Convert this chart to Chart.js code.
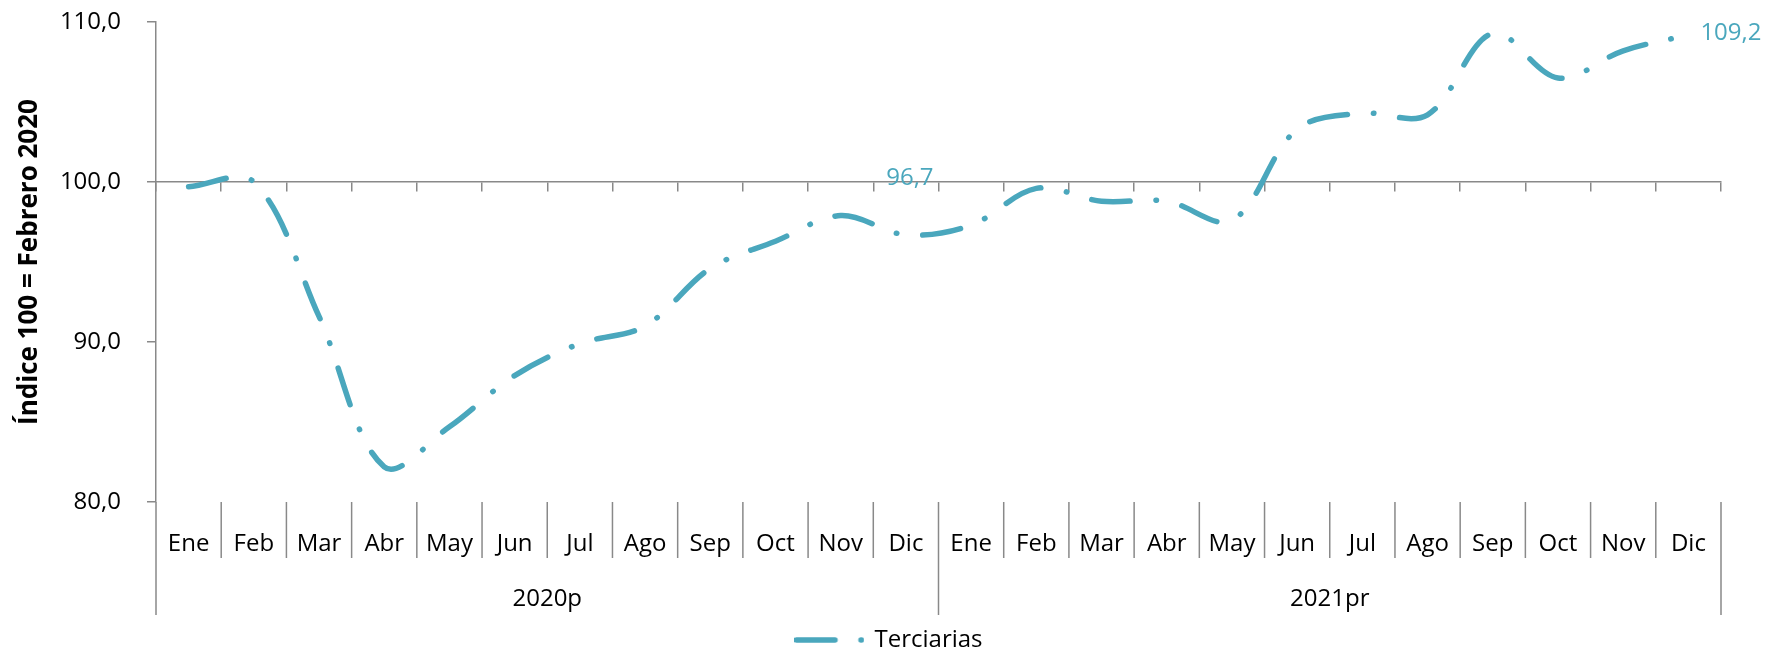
<!DOCTYPE html>
<html>
<head>
<meta charset="utf-8">
<script src="https://cdn.jsdelivr.net/npm/chart.js@4/dist/chart.umd.min.js"></script>
<style>
  html, body { margin: 0; padding: 0; background: #fff; }
  #wrap { width: 1765px; height: 652px; position: relative; }
</style>
</head>
<body>
<div id="wrap"><canvas id="chart"></canvas></div>
<script>
const months = ['Ene', 'Feb', 'Mar', 'Abr', 'May', 'Jun', 'Jul', 'Ago', 'Sep', 'Oct', 'Nov', 'Dic'];
const years = ['2020p', '2021pr'];
const terciarias2020 = [99.7, 100.0, 91.6, 82.2, 84.7, 87.9, 89.9, 91.0, 94.6, 96.3, 97.9, 96.7];
const terciarias2021 = [97.3, 99.6, 98.8, 98.8, 97.6, 103.3, 104.3, 104.2, 109.3, 106.5, 108.2, 109.2];
const yTicks = [80, 90, 100, 110];
const labelledPoints = [11, 23];

const lineColor = '#4aa7bd';
const axisColor = '#898989';
const dashPattern = [38.5, 26, 0.5, 26];

const labels = years.flatMap(() => months);
const values = terciarias2020.concat(terciarias2021);
const fmt = (v) => v.toFixed(1).replace('.', ',');

Chart.defaults.font.family = "'Open Sans', sans-serif";
Chart.defaults.font.size = 24;
Chart.defaults.color = '#000';

// legend sample: dash + dot, same pattern as the series
const legendSample = document.createElement('canvas');
legendSample.width = 70;
legendSample.height = 10;
{
  const c = legendSample.getContext('2d');
  c.strokeStyle = lineColor;
  c.lineWidth = 5.5;
  c.lineCap = 'round';
  c.setLineDash(dashPattern);
  c.beginPath();
  c.moveTo(2, 5);
  c.lineTo(68, 5);
  c.stroke();
}

// month + year band under the plot, positioned from the x scale
const bandPlugin = {
  id: 'band',
  afterDraw(chart) {
    const { ctx, chartArea } = chart;
    const x = chart.scales.x;
    const bottom = chartArea.bottom;
    ctx.save();
    ctx.strokeStyle = axisColor;
    ctx.lineWidth = 1.5;
    for (let i = 0; i <= labels.length; i++) {
      const px = x.getPixelForValue(i - 0.5);
      ctx.beginPath();
      ctx.moveTo(px, bottom);
      ctx.lineTo(px, bottom + (i % 12 === 0 ? 113 : 56));
      ctx.stroke();
    }
    ctx.fillStyle = '#000';
    ctx.font = "24px 'Open Sans', sans-serif";
    ctx.textAlign = 'center';
    ctx.textBaseline = 'alphabetic';
    labels.forEach((m, i) => {
      ctx.fillText(m, x.getPixelForValue(i), bottom + 49);
    });
    years.forEach((yr, g) => {
      const a = x.getPixelForValue(g * 12 - 0.5);
      const b = x.getPixelForValue(g * 12 + 11.5);
      ctx.fillText(yr, (a + b) / 2, bottom + 104);
    });
    ctx.restore();
  },
};

const valueLabels = {
  id: 'valueLabels',
  afterDatasetsDraw(chart) {
    const { ctx } = chart;
    const { x, y } = chart.scales;
    ctx.save();
    ctx.fillStyle = lineColor;
    ctx.font = "24px 'Open Sans', sans-serif";
    ctx.textBaseline = 'middle';
    labelledPoints.forEach((i) => {
      const px = x.getPixelForValue(i);
      const py = y.getPixelForValue(values[i]);
      if (i === labels.length - 1) {
        ctx.textAlign = 'left';
        ctx.fillText(fmt(values[i]), px + 12, py - 2);
      } else {
        ctx.textAlign = 'center';
        ctx.fillText(fmt(values[i]), px + 4, py - 57);
      }
    });
    ctx.restore();
  },
};

new Chart(document.getElementById('chart'), {
  type: 'line',
  data: {
    labels,
    datasets: [{
      label: 'Terciarias',
      data: values,
      borderColor: lineColor,
      backgroundColor: lineColor,
      borderWidth: 5.5,
      borderDash: dashPattern,
      borderCapStyle: 'round',
      borderJoinStyle: 'round',
      tension: 0.35,
      pointRadius: 0,
      fill: false,
      xAxisID: 'x',
      yAxisID: 'y',
    }],
  },
  options: {
    responsive: true,
    maintainAspectRatio: false,
    animation: false,
    layout: { padding: { top: 22, left: 14, right: 0, bottom: -10 } },
    plugins: {
      tooltip: { enabled: false },
      legend: {
        position: 'bottom',
        labels: {
          usePointStyle: true,
          pointStyle: legendSample,
          pointStyleWidth: 66,
          padding: 10,
          color: '#000',
          font: { size: 24 },
        },
      },
    },
    scales: {
      x: {
        type: 'category',
        position: { y: 100 },
        offset: true,
        ticks: { display: false },
        grid: { offset: true, drawOnChartArea: false, tickLength: 9, color: axisColor, lineWidth: 1.5 },
        border: { color: axisColor, width: 1.5 },
      },
      xb: {
        type: 'category',
        position: 'bottom',
        ticks: { display: false },
        grid: { display: false },
        border: { display: false },
        afterFit: (s) => { s.height = 116; },
      },
      y: {
        min: 80,
        max: 110,
        afterBuildTicks: (s) => { s.ticks = yTicks.map((v) => ({ value: v })); },
        ticks: { padding: 26, callback: (v) => fmt(v), color: '#000' },
        grid: { drawOnChartArea: false, tickLength: 9, color: axisColor, lineWidth: 1.5 },
        border: { color: axisColor, width: 1.5 },
        title: {
          display: true,
          text: 'Índice 100 = Febrero 2020',
          font: { size: 26, weight: 'bold' },
          color: '#000',
          padding: { top: 0, bottom: 0 },
        },
        afterFit: (s) => { s.width = 142; s.paddingTop = 0; s.paddingBottom = 0; },
      },
      y2: {
        position: 'right',
        ticks: { display: false },
        grid: { display: false },
        border: { display: false },
        afterFit: (s) => { s.width = 44; },
      },
    },
  },
  plugins: [bandPlugin, valueLabels],
});
</script>
</body>
</html>
